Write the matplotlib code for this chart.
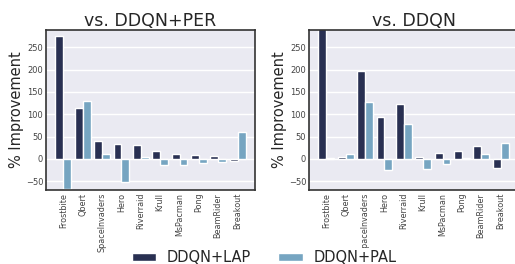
import numpy as np
import matplotlib
matplotlib.use("Agg")
import matplotlib.pyplot as plt
import seaborn as sns

games = ["Frostbite", "Qbert", "SpaceInvaders", "Hero", "Riverraid",
         "Krull", "MsPacman", "Pong", "BeamRider", "Breakout"]

# vs. DDQN+PER
per_lap = [276, 115, 41, 34, 32, 18, 10, 9, 7, -6]
per_pal = [-67, 130, 10, -51, 5, -13, -15, -10, -8, 61]

# vs. DDQN
ddqn_lap = [310, 3, 196, 94, 123, 3, 14, 18, 29, -20]
ddqn_pal = [2, 11, 128, -26, 79, -24, -12, 1, 11, 36]

c_lap = "#293052"
c_pal = "#76a5c1"

sns.set_style("darkgrid")
plt.rcParams['font.family'] = ['DejaVu Sans']

fig = plt.figure(figsize=(5.15, 2.64), dpi=100)
ax1 = fig.add_axes([46/515, 1 - 190/264, 209/515, 160/264])
ax2 = fig.add_axes([309/515, 1 - 190/264, 209/515, 160/264])

x = np.arange(len(games))
w = 0.41

def draw(ax, lap, pal, title):
    ax.bar(x - w/2, lap, w, color=c_lap, label="DDQN+LAP")
    ax.bar(x + w/2, pal, w, color=c_pal, label="DDQN+PAL")
    ax.set_title(title, fontsize=12.5, pad=3)
    ax.set_ylabel("% Improvement", fontsize=10.5, labelpad=1)
    ax.set_ylim(-70, 289)
    ax.set_xlim(-0.9, 9.9)
    ax.set_yticks([-50, 0, 50, 100, 150, 200, 250])
    ax.set_xticks(x)
    ax.set_xticklabels(games, rotation=90, fontsize=5.8, color="#444444")
    ax.tick_params(axis='y', labelsize=6, pad=2, length=0, labelcolor="#444444")
    ax.tick_params(axis='x', length=0, pad=2)
    ax.grid(axis='x', visible=False)
    ax.grid(axis='y', color='white', linewidth=1)
    for s in ax.spines.values():
        s.set_visible(True)
        s.set_color("#333333")
        s.set_linewidth(1.2)

draw(ax1, per_lap, per_pal, "vs. DDQN+PER")
draw(ax2, ddqn_lap, ddqn_pal, "vs. DDQN")

h, l = ax1.get_legend_handles_labels()
leg = fig.legend(h, l, loc="center", ncol=2, fontsize=10.5, frameon=True,
                 facecolor="white", edgecolor="none", framealpha=1,
                 bbox_to_anchor=(264/515, 1 - 258/264), handlelength=1.7,
                 handleheight=0.45, handletextpad=0.7, columnspacing=1.9,
                 borderpad=0.2)

fig.savefig("out.png", dpi=100)
